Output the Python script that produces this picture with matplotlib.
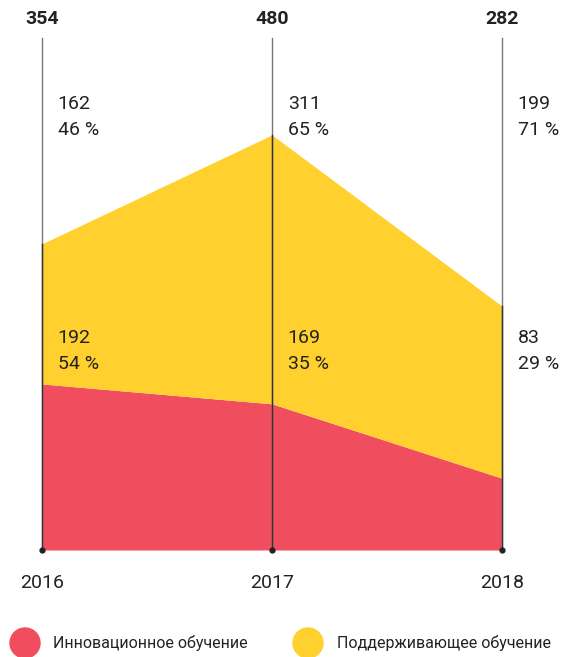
import matplotlib
matplotlib.use("Agg")
import matplotlib.pyplot as plt
from matplotlib.patches import Ellipse

# data
years = ["2016", "2017", "2018"]
innov = [192, 169, 83]
support = [162, 311, 199]
innov_pct = [54, 35, 29]
support_pct = [46, 65, 71]
legend_labels = ["Инновационное обучение", "Поддерживающее обучение"]

RED = "#F04D5E"
YELLOW = "#FFD02E"
TXT = "#222222"

plt.rcParams['font.family'] = ['Roboto', 'DejaVu Sans']

W, H = 565, 657
fig = plt.figure(figsize=(W / 100, H / 100), dpi=100)

# axes spans from first to last year line, baseline to top of lines
x0, x1 = 42, 502
ybase, ytop = 550, 38
ax = fig.add_axes([x0 / W, (H - ybase) / H, (x1 - x0) / W, (ybase - ytop) / H])
ymax = 592
ax.set_xlim(0, 2)
ax.set_ylim(0, ymax)
ax.axis("off")

xs = list(range(len(years)))
totals = [a + b for a, b in zip(innov, support)]
ax.fill_between(xs, 0, innov, color=RED, lw=0)
ax.fill_between(xs, innov, totals, color=YELLOW, lw=0)

for i, x in enumerate(xs):
    ax.plot([x, x], [0, ymax], color="#777777", lw=1, zorder=1, clip_on=False)
    ax.plot([x, x], [0, totals[i]], color="#333333", lw=1, zorder=3, clip_on=False)
    ax.plot(x, 0, "o", color="#222222", ms=3.5, zorder=4, clip_on=False)
    ax.text(x, ymax + 22, str(totals[i]), ha="center", va="center",
            fontsize=14, fontweight="bold", color=TXT, clip_on=False)
    ax.text(x, -38, years[i], ha="center", va="center",
            fontsize=14, color=TXT, clip_on=False)
    ax.text(x + 0.068, 526, f"{support[i]}\n{support_pct[i]} %", ha="left", va="top",
            fontsize=14, color=TXT, linespacing=1.55, clip_on=False)
    ax.text(x + 0.068, 255, f"{innov[i]}\n{innov_pct[i]} %", ha="left", va="top",
            fontsize=14, color=TXT, linespacing=1.55, clip_on=False)

# legend
for cx, tx, col, lab in [(25, 53, RED, legend_labels[0]), (308, 337, YELLOW, legend_labels[1])]:
    fig.patches.append(Ellipse((cx / W, (H - 643) / H), 30 / W, 30 / H,
                               transform=fig.transFigure, color=col))
    fig.text(tx / W, (H - 643) / H, lab, ha="left", va="center", fontsize=11.5, color=TXT)

fig.savefig("out.png", dpi=100)
